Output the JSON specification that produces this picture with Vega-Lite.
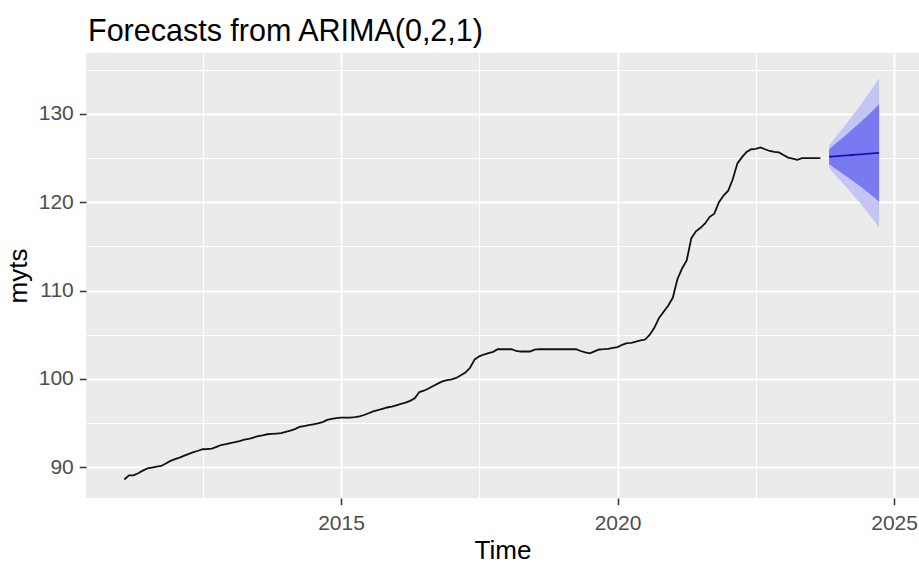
{
  "$schema": "https://vega.github.io/schema/vega-lite/v6.json",
  "width": 833,
  "height": 445,
  "autosize": {"type": "none"},
  "padding": {"left": 86, "top": 53, "right": 0, "bottom": 67},
  "background": "white",
  "title": {
    "text": "Forecasts from ARIMA(0,2,1)",
    "anchor": "start",
    "frame": "group",
    "font": "Liberation Sans",
    "fontSize": 30.5,
    "fontWeight": "normal",
    "color": "black",
    "dx": 2,
    "offset": 6
  },
  "config": {
    "view": {"fill": "#EBEBEB", "stroke": null},
    "axis": {
      "domain": false,
      "gridColor": "white",
      "tickColor": "#333333",
      "tickWidth": 1.5,
      "tickSize": 6.7,
      "labelColor": "#4D4D4D",
      "labelFont": "Liberation Sans",
      "labelFontSize": 21,
      "labelOverlap": false,
      "labelBound": false,
      "labelFlush": false,
      "titleFont": "Liberation Sans",
      "titleFontSize": 26,
      "titleFontWeight": "normal",
      "titleColor": "black"
    }
  },
  "datasets": {
    "hist": [
      {"t": 2011.083, "v": 88.6}, {"t": 2011.167, "v": 89.07}, {"t": 2011.25, "v": 89.07}, {"t": 2011.333, "v": 89.3},
      {"t": 2011.417, "v": 89.6}, {"t": 2011.5, "v": 89.85}, {"t": 2011.583, "v": 89.95}, {"t": 2011.667, "v": 90.05},
      {"t": 2011.75, "v": 90.13}, {"t": 2011.833, "v": 90.4}, {"t": 2011.917, "v": 90.7},
      {"t": 2012.0, "v": 90.9}, {"t": 2012.083, "v": 91.08}, {"t": 2012.167, "v": 91.3}, {"t": 2012.25, "v": 91.5},
      {"t": 2012.333, "v": 91.7}, {"t": 2012.417, "v": 91.85}, {"t": 2012.5, "v": 92.02}, {"t": 2012.583, "v": 92.05},
      {"t": 2012.667, "v": 92.1}, {"t": 2012.75, "v": 92.3}, {"t": 2012.833, "v": 92.5}, {"t": 2012.917, "v": 92.6},
      {"t": 2013.0, "v": 92.72}, {"t": 2013.083, "v": 92.82}, {"t": 2013.167, "v": 92.95}, {"t": 2013.25, "v": 93.1},
      {"t": 2013.333, "v": 93.2}, {"t": 2013.417, "v": 93.35}, {"t": 2013.5, "v": 93.5}, {"t": 2013.583, "v": 93.6},
      {"t": 2013.667, "v": 93.72}, {"t": 2013.75, "v": 93.76}, {"t": 2013.833, "v": 93.8}, {"t": 2013.917, "v": 93.85},
      {"t": 2014.0, "v": 94.0}, {"t": 2014.083, "v": 94.12}, {"t": 2014.167, "v": 94.3}, {"t": 2014.25, "v": 94.55},
      {"t": 2014.333, "v": 94.65}, {"t": 2014.417, "v": 94.75}, {"t": 2014.5, "v": 94.85}, {"t": 2014.583, "v": 94.95},
      {"t": 2014.667, "v": 95.1}, {"t": 2014.75, "v": 95.34}, {"t": 2014.833, "v": 95.45}, {"t": 2014.917, "v": 95.55},
      {"t": 2015.0, "v": 95.6}, {"t": 2015.083, "v": 95.6}, {"t": 2015.167, "v": 95.6}, {"t": 2015.25, "v": 95.65},
      {"t": 2015.333, "v": 95.75}, {"t": 2015.417, "v": 95.9}, {"t": 2015.5, "v": 96.1}, {"t": 2015.583, "v": 96.3},
      {"t": 2015.667, "v": 96.45}, {"t": 2015.75, "v": 96.6}, {"t": 2015.833, "v": 96.75}, {"t": 2015.917, "v": 96.85},
      {"t": 2016.0, "v": 97.0}, {"t": 2016.083, "v": 97.15}, {"t": 2016.167, "v": 97.3}, {"t": 2016.25, "v": 97.5},
      {"t": 2016.333, "v": 97.8}, {"t": 2016.417, "v": 98.5}, {"t": 2016.5, "v": 98.65}, {"t": 2016.583, "v": 98.9},
      {"t": 2016.667, "v": 99.19}, {"t": 2016.75, "v": 99.45}, {"t": 2016.833, "v": 99.7}, {"t": 2016.917, "v": 99.85},
      {"t": 2017.0, "v": 99.93}, {"t": 2017.083, "v": 100.1}, {"t": 2017.167, "v": 100.4}, {"t": 2017.25, "v": 100.7},
      {"t": 2017.333, "v": 101.25}, {"t": 2017.417, "v": 102.2}, {"t": 2017.5, "v": 102.55}, {"t": 2017.583, "v": 102.75},
      {"t": 2017.667, "v": 102.9}, {"t": 2017.75, "v": 103.05}, {"t": 2017.833, "v": 103.35}, {"t": 2017.917, "v": 103.35},
      {"t": 2018.0, "v": 103.35}, {"t": 2018.083, "v": 103.35}, {"t": 2018.167, "v": 103.15}, {"t": 2018.25, "v": 103.09},
      {"t": 2018.333, "v": 103.09}, {"t": 2018.417, "v": 103.09}, {"t": 2018.5, "v": 103.3}, {"t": 2018.583, "v": 103.35},
      {"t": 2018.667, "v": 103.35}, {"t": 2018.75, "v": 103.35}, {"t": 2018.833, "v": 103.35}, {"t": 2018.917, "v": 103.35},
      {"t": 2019.0, "v": 103.35}, {"t": 2019.083, "v": 103.35}, {"t": 2019.167, "v": 103.35}, {"t": 2019.25, "v": 103.35},
      {"t": 2019.333, "v": 103.15}, {"t": 2019.417, "v": 103.0}, {"t": 2019.5, "v": 102.88}, {"t": 2019.583, "v": 103.1},
      {"t": 2019.667, "v": 103.32}, {"t": 2019.75, "v": 103.35}, {"t": 2019.833, "v": 103.4}, {"t": 2019.917, "v": 103.5},
      {"t": 2020.0, "v": 103.6}, {"t": 2020.083, "v": 103.85}, {"t": 2020.167, "v": 104.05}, {"t": 2020.25, "v": 104.08},
      {"t": 2020.333, "v": 104.2}, {"t": 2020.417, "v": 104.35}, {"t": 2020.5, "v": 104.45}, {"t": 2020.583, "v": 105.0},
      {"t": 2020.667, "v": 105.8}, {"t": 2020.75, "v": 106.9}, {"t": 2020.833, "v": 107.6}, {"t": 2020.917, "v": 108.3},
      {"t": 2021.0, "v": 109.2}, {"t": 2021.083, "v": 111.3}, {"t": 2021.167, "v": 112.5}, {"t": 2021.25, "v": 113.4},
      {"t": 2021.333, "v": 115.9}, {"t": 2021.417, "v": 116.7}, {"t": 2021.5, "v": 117.1}, {"t": 2021.583, "v": 117.6},
      {"t": 2021.667, "v": 118.35}, {"t": 2021.75, "v": 118.7}, {"t": 2021.833, "v": 120.0}, {"t": 2021.917, "v": 120.75},
      {"t": 2022.0, "v": 121.3}, {"t": 2022.083, "v": 122.6}, {"t": 2022.167, "v": 124.4}, {"t": 2022.25, "v": 125.1},
      {"t": 2022.333, "v": 125.7}, {"t": 2022.417, "v": 126.0}, {"t": 2022.5, "v": 126.05}, {"t": 2022.583, "v": 126.2},
      {"t": 2022.667, "v": 126.0}, {"t": 2022.75, "v": 125.8}, {"t": 2022.833, "v": 125.7}, {"t": 2022.917, "v": 125.64},
      {"t": 2023.0, "v": 125.35}, {"t": 2023.083, "v": 125.05}, {"t": 2023.167, "v": 124.95}, {"t": 2023.25, "v": 124.8},
      {"t": 2023.333, "v": 125.0}, {"t": 2023.417, "v": 125.0}, {"t": 2023.5, "v": 125.0}, {"t": 2023.583, "v": 125.0},
      {"t": 2023.667, "v": 125.0}
    ],
    "fc": [
      {"t": 2023.825, "mean": 125.15, "lo80": 124.34, "hi80": 125.96, "lo95": 123.9, "hi95": 126.4},
      {"t": 2023.907, "mean": 125.19, "lo80": 123.94, "hi80": 126.44, "lo95": 123.28, "hi95": 127.1},
      {"t": 2023.989, "mean": 125.23, "lo80": 123.58, "hi80": 126.88, "lo95": 122.71, "hi95": 127.75},
      {"t": 2024.072, "mean": 125.27, "lo80": 123.23, "hi80": 127.31, "lo95": 122.15, "hi95": 128.39},
      {"t": 2024.154, "mean": 125.31, "lo80": 122.87, "hi80": 127.75, "lo95": 121.58, "hi95": 129.04},
      {"t": 2024.236, "mean": 125.35, "lo80": 122.5, "hi80": 128.2, "lo95": 121.0, "hi95": 129.7},
      {"t": 2024.318, "mean": 125.39, "lo80": 122.13, "hi80": 128.65, "lo95": 120.4, "hi95": 130.38},
      {"t": 2024.4, "mean": 125.43, "lo80": 121.74, "hi80": 129.12, "lo95": 119.79, "hi95": 131.07},
      {"t": 2024.483, "mean": 125.47, "lo80": 121.34, "hi80": 129.6, "lo95": 119.15, "hi95": 131.79},
      {"t": 2024.565, "mean": 125.51, "lo80": 120.93, "hi80": 130.09, "lo95": 118.5, "hi95": 132.52},
      {"t": 2024.647, "mean": 125.55, "lo80": 120.5, "hi80": 130.6, "lo95": 117.83, "hi95": 133.27},
      {"t": 2024.729, "mean": 125.59, "lo80": 120.06, "hi80": 131.12, "lo95": 117.14, "hi95": 134.04}
    ]
  },
  "encoding": {
    "x": {
      "field": "t",
      "type": "quantitative",
      "title": "Time",
      "scale": {"domain": [2010.39, 2025.45], "nice": false, "zero": false},
      "axis": {
        "values": [2012.5, 2015, 2017.5, 2020, 2022.5, 2025],
        "format": "d",
        "labelExpr": "datum.value % 5 === 0 ? datum.label : ''",
        "gridWidth": {"condition": {"test": "datum.value % 5 !== 0", "value": 1}, "value": 2},
        "tickOpacity": {"condition": {"test": "datum.value % 5 !== 0", "value": 0}, "value": 1},
        "labelPadding": 8,
        "titlePadding": 4
      }
    }
  },
  "layer": [
    {
      "data": {"name": "fc"},
      "mark": {"type": "area", "color": "#C4C4F5", "opacity": 1},
      "encoding": {
        "y": {
          "field": "lo95",
          "type": "quantitative",
          "title": "myts",
          "scale": {"domain": [86.5, 136.9], "nice": false, "zero": false},
          "axis": {
            "values": [90, 95, 100, 105, 110, 115, 120, 125, 130, 135],
            "labelExpr": "datum.value % 10 === 0 ? datum.label : ''",
            "gridWidth": {"condition": {"test": "datum.value % 10 !== 0", "value": 1}, "value": 2},
            "tickOpacity": {"condition": {"test": "datum.value % 10 !== 0", "value": 0}, "value": 1},
            "labelPadding": 6,
            "titlePadding": 7
          }
        },
        "y2": {"field": "hi95"}
      }
    },
    {
      "data": {"name": "fc"},
      "mark": {"type": "area", "color": "#7A7AF0", "opacity": 1},
      "encoding": {
        "y": {"field": "lo80", "type": "quantitative"},
        "y2": {"field": "hi80"}
      }
    },
    {
      "data": {"name": "hist"},
      "mark": {"type": "line", "color": "#111111", "strokeWidth": 1.8},
      "encoding": {"y": {"field": "v", "type": "quantitative"}}
    },
    {
      "data": {"name": "fc"},
      "mark": {"type": "line", "color": "#1414B4", "strokeWidth": 1.8},
      "encoding": {"y": {"field": "mean", "type": "quantitative"}}
    }
  ]
}
